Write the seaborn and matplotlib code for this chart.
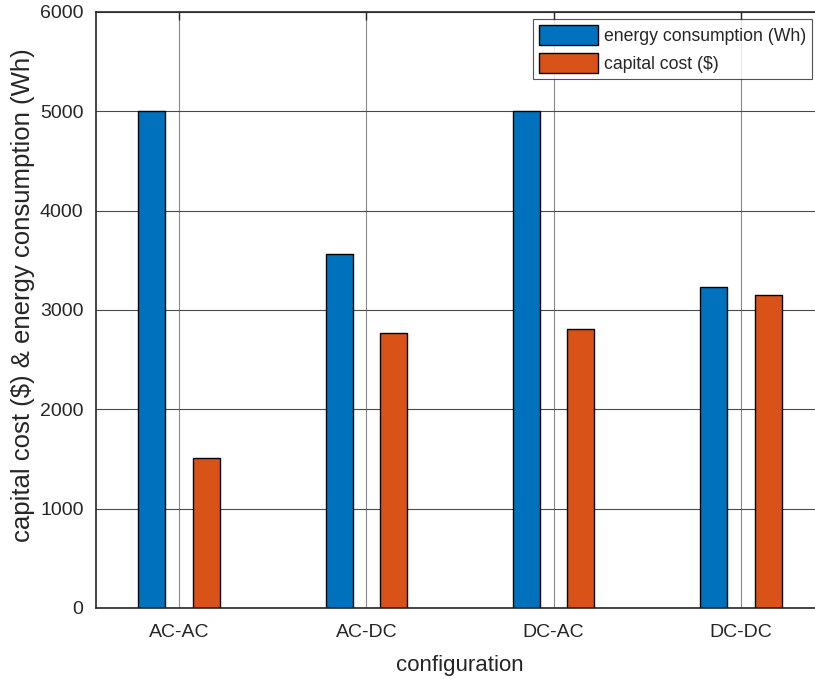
import matplotlib
matplotlib.use("Agg")
import matplotlib.pyplot as plt
import seaborn as sns
import pandas as pd

# Configurations and the two measured series
configurations = ["AC-AC", "AC-DC", "DC-AC", "DC-DC"]
energy_consumption_wh = [5000, 3565, 5000, 3235]
capital_cost_usd = [1510, 2765, 2810, 3150]
series_names = ["energy consumption (Wh)", "capital cost ($)"]
y_ticks = [0, 1000, 2000, 3000, 4000, 5000, 6000]

df = pd.DataFrame({
    "configuration": configurations * 2,
    "value": energy_consumption_wh + capital_cost_usd,
    "series": [series_names[0]] * len(configurations) + [series_names[1]] * len(configurations),
})

sns.set_style("white")
plt.rcParams["font.family"] = ["Liberation Sans", "DejaVu Sans"]

fig = plt.figure(figsize=(8.15, 6.79), dpi=100)
ax = fig.add_axes([96 / 815, 71 / 679, 728 / 815, 596 / 679])

sns.barplot(
    data=df, x="configuration", y="value", hue="series",
    order=configurations, hue_order=series_names,
    palette=["#0072BD", "#D95319"],
    width=0.58, gap=0.5, saturation=1,
    edgecolor="black", linewidth=1.0, ax=ax,
)

ax.set_xlim(-0.443, 3.443)
ax.set_ylim(0, 6000)
ax.set_yticks(y_ticks)
ax.set_axisbelow(True)
ax.yaxis.grid(True, color="#4a4a4a", lw=0.8)
ax.xaxis.grid(True, color="#8a8a8a", lw=0.8)

for side in ["left", "bottom", "top", "right"]:
    ax.spines[side].set_color("#262626")
    ax.spines[side].set_linewidth(1.2)

ax.tick_params(axis="both", direction="in", length=5.5, width=1, color="#262626",
               labelsize=14, labelcolor="#262626", top=True, right=True)
ax.tick_params(axis="y", pad=9)
ax.tick_params(axis="x", pad=11.5)

ax.set_xlabel("configuration", fontsize=16, color="#262626", labelpad=10)
ax.set_ylabel("capital cost ($) & energy consumption (Wh)", fontsize=18.5,
              color="#262626")
ax.yaxis.set_label_coords(-61 / 728, 0.525)

leg = ax.legend(
    loc="upper right", bbox_to_anchor=(812 / 815, 1 - 19 / 679),
    bbox_transform=fig.transFigure, borderaxespad=0,
    fontsize=12.7, frameon=True, fancybox=False,
    handlelength=3.35, handleheight=1.35, handletextpad=0.3,
    borderpad=0.35, labelspacing=0.45,
)
leg.get_frame().set_edgecolor("#262626")
leg.get_frame().set_linewidth(0.8)
for t in leg.get_texts():
    t.set_color("#262626")

fig.savefig("out.png", dpi=100)
